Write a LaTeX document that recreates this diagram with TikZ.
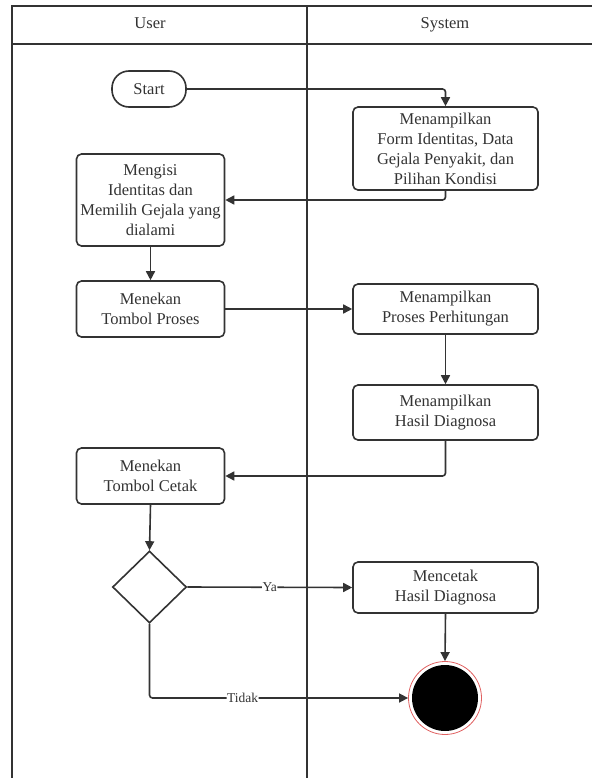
\documentclass[tikz,border=0pt]{standalone}
\usepackage{fontspec}
\setmainfont{Liberation Serif}
\usetikzlibrary{shapes.geometric,arrows.meta}
\definecolor{ink}{HTML}{333333}
\definecolor{ring}{HTML}{E06060}
\begin{document}
\begin{tikzpicture}[x=1pt,y=-1pt,
  lane/.style={draw=ink,line width=1.8pt},
  act/.style={draw=ink,line width=1.6pt,rounded corners=5pt,align=center,
    inner sep=0pt,text=ink,font=\fontsize{16.5}{20}\selectfont},
  pill/.style={draw=ink,line width=1.6pt,rounded corners=17pt,align=center,
    inner sep=0pt,text=ink,minimum width=74pt,minimum height=36pt,
    font=\fontsize{16.5}{20}\selectfont},
  choice/.style={draw=ink,line width=1.6pt,diamond,inner sep=0pt,
    minimum width=74pt,minimum height=72pt},
  flow/.style={draw=ink,line width=1.6pt,rounded corners=3pt,
    -{Triangle[length=9pt,width=9pt]}},
  elabel/.style={fill=white,inner sep=0.5pt,text=ink,
    font=\fontsize{13.5}{16}\selectfont},
  head/.style={text=ink,text height=11pt,text depth=3pt,
    font=\fontsize{16.5}{20}\selectfont}]
\useasboundingbox (0,0) rectangle (592,778);
\fill[white] (0,0) rectangle (592,778);

% swimlane frame
\draw[lane] (12,778) -- (12,6) -- (592,6);
\draw[lane] (12,44) -- (592,44);
\draw[lane] (307,6) -- (307,778);
\node[head] (huser) at (150,25) {User};
\node[head] (hsys) at (445,25) {System};

% activities
\node[pill] (start) at (149,89) {Start};
\node[act,minimum width=185pt,minimum height=83pt] (form) at (445.5,148.5)
  {Menampilkan\\Form Identitas, Data\\Gejala Penyakit, dan\\Pilihan Kondisi};
\node[act,minimum width=148pt,minimum height=92pt] (isi) at (150.5,200)
  {Mengisi\\Identitas dan\\Memilih Gejala yang\\dialami};
\node[act,minimum width=148pt,minimum height=56pt] (proses) at (150.5,309)
  {Menekan\\Tombol Proses};
\node[act,minimum width=185pt,minimum height=50pt] (hitung) at (445.5,309)
  {Menampilkan\\Proses Perhitungan};
\node[act,minimum width=185pt,minimum height=55pt] (hasil) at (445.5,412.5)
  {Menampilkan\\Hasil Diagnosa};
\node[act,minimum width=148pt,minimum height=56pt] (cetak) at (150.5,476)
  {Menekan\\Tombol Cetak};
\node[choice] (dec) at (149.5,587) {};
\node[act,minimum width=185pt,minimum height=51pt] (print) at (445.5,587.5)
  {Mencetak\\Hasil Diagnosa};

% final state
\node[circle,draw=ring,line width=0.8pt,fill=white,minimum size=73pt,
  inner sep=0pt] (end) at (445,698) {};
\fill[black] (end.center) circle (33pt);

% control flow
\draw[flow] (start.east) -| (form.north);
\draw[flow] (form.south) |- (isi.east);
\draw[flow] (isi.south) -- (proses.north);
\draw[flow] (proses.east) -- (hitung.west);
\draw[flow] (hitung.south) -- (hasil.north);
\draw[flow] (hasil.south) |- (cetak.east);
\draw[flow] (cetak.south) -- (dec.north);
\draw[flow] (dec.east) -- node[elabel,pos=0.5] {Ya} (print.west);
\draw[flow] (print.south) -- (end.north);
\draw[flow] (dec.south) |- node[elabel,pos=0.68] {Tidak} (end.west);
\end{tikzpicture}
\end{document}
